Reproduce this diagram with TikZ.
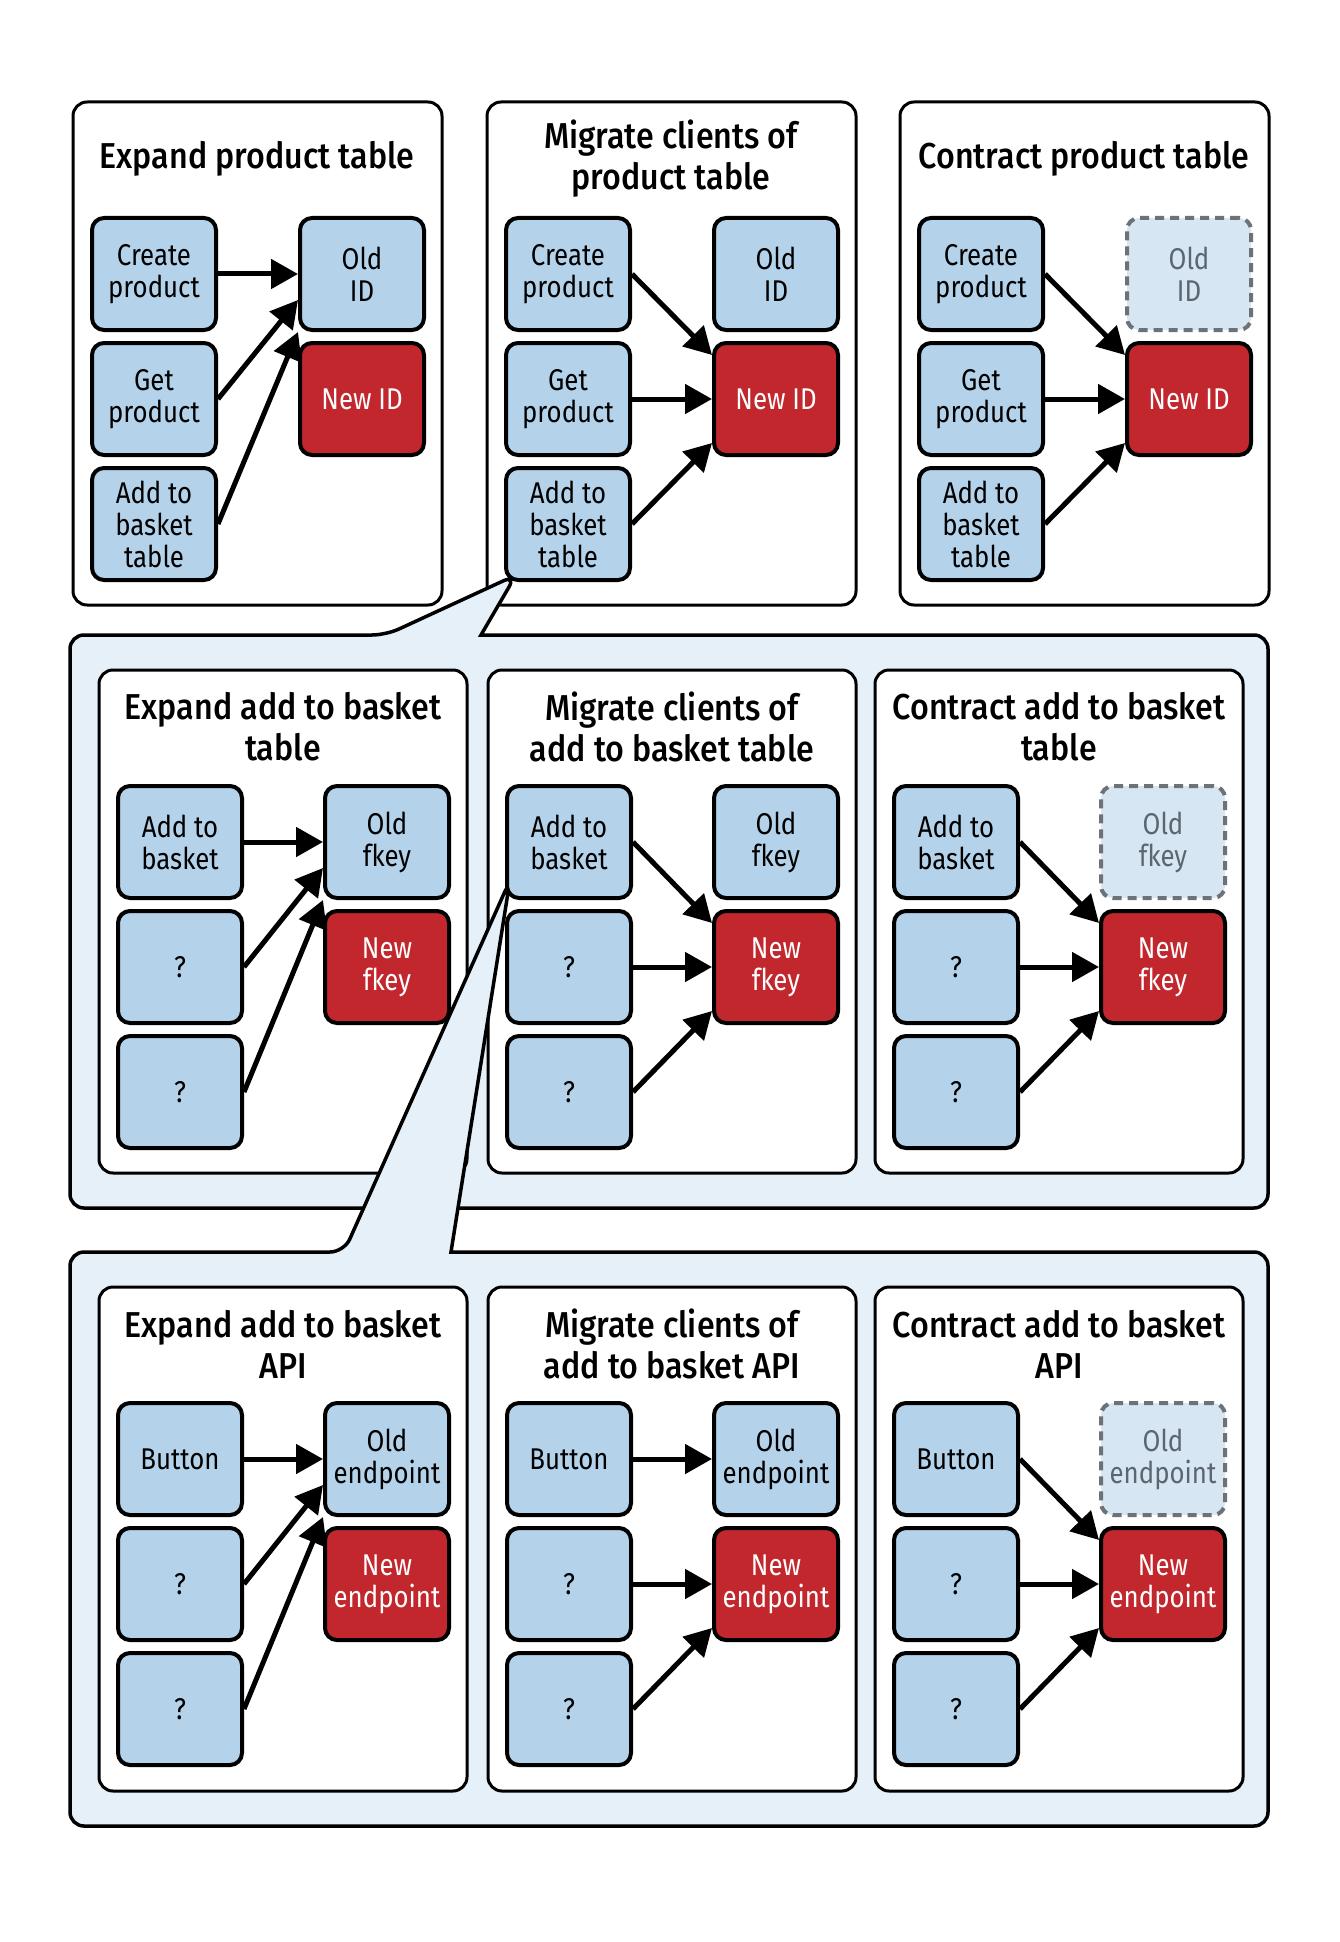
\documentclass[tikz,border=0pt]{standalone}
\usepackage{fontspec}
\setmainfont{Fira Sans}[FakeStretch=0.86]
\newfontfamily\titlefam{Fira Sans Medium}[FakeStretch=0.895]
\usetikzlibrary{arrows.meta}
\definecolor{boxblue}{RGB}{180,211,235}
\definecolor{newred}{RGB}{193,39,45}
\definecolor{bgblue}{RGB}{229,240,248}
\definecolor{goneblue}{RGB}{214,230,243}
\definecolor{gonegray}{RGB}{110,114,118}
\definecolor{gonetext}{RGB}{92,102,112}
\newcommand{\boxfont}{\fontsize{30}{32}\selectfont}
\newcommand{\titlefont}{\titlefam\fontsize{36}{41}\selectfont}
\tikzset{
  frame/.style={draw, line width=3pt, rounded corners=14pt, fill=white},
  bigframe/.style={draw, line width=3.5pt, rounded corners=14pt, fill=bgblue},
  title/.style={align=center, font=\titlefont},
  item/.style={draw, line width=4pt, rounded corners=12pt, fill=boxblue, minimum width=124pt, minimum height=112pt, inner sep=0pt, align=center, font=\boxfont},
  newitem/.style={item, fill=newred, text=white},
  olditem/.style={item, draw=gonegray, fill=goneblue, text=gonetext, dash pattern=on 9pt off 6pt},
  link/.style={line width=5pt, -{Triangle[length=27pt,width=29pt]}},
}
\begin{document}
\begin{tikzpicture}[x=1pt,y=-1pt]
\path[use as bounding box, fill=white] (0,0) rectangle (1340,1942);

% product table row
\draw[frame] (73,102) rectangle (442,605);
\draw[frame] (487,102) rectangle (856,605);
\draw[frame] (900,102) rectangle (1269,605);

% basket table row, callout from the basket box above
\draw[bigframe] (70,900) -- (70,635) -- (386,635) -- (516,575) [sharp corners] -- (481,635) [rounded corners=14pt] -- (1268,635) -- (1268,1208) -- (70,1208) -- cycle;
\draw[frame] (99,670) rectangle (467,1173);
\draw[frame] (488,670) rectangle (856,1173);
\draw[frame] (875,670) rectangle (1243,1173);

% basket API row, callout from the basket box above
\draw[bigframe] (70,1500) -- (70,1252) -- (344,1252) -- (510,880) [sharp corners] -- (451,1252) [rounded corners=14pt] -- (1268,1252) -- (1268,1826) -- (70,1826) -- cycle;
\draw[frame] (99,1287) rectangle (467,1791);
\draw[frame] (488,1287) rectangle (856,1791);
\draw[frame] (875,1287) rectangle (1243,1791);

% titles
\node[title] (exp1) at (257,159) {Expand product table};
\node[title] (mig1) at (671,159) {Migrate clients of\\product table};
\node[title] (con1) at (1084,159) {Contract product table};
\node[title] (exp2) at (283,727) {Expand add to basket\\table};
\node[title] (mig2) at (672,727) {Migrate clients of\\add to basket table};
\node[title] (con2) at (1059,727) {Contract add to basket\\table};
\node[title] (exp3) at (283,1344) {Expand add to basket\\API};
\node[title] (mig3) at (672,1344) {Migrate clients of\\add to basket API};
\node[title] (con3) at (1059,1344) {Contract add to basket\\API};

% expand product table
\node[item] (exp1-a) at (154,274) {Create\\product};
\node[item] (exp1-b) at (154,399) {Get\\product};
\node[item] (exp1-c) at (154,524) {Add to\\basket\\table};
\node[item] (exp1-old) at (362,274) {Old\\ID};
\node[newitem] (exp1-new) at (362,399) {New ID};
\draw[link] (exp1-a.east) -- (exp1-old.west);
\draw[link] (exp1-b.east) -- ([yshift=32pt]exp1-old.south west);
\draw[link] (exp1-c.east) -- (exp1-old.south west);

% migrate product table
\node[item] (mig1-a) at (568,274) {Create\\product};
\node[item] (mig1-b) at (568,399) {Get\\product};
\node[item] (mig1-c) at (568,524) {Add to\\basket\\table};
\node[item] (mig1-old) at (776,274) {Old\\ID};
\node[newitem] (mig1-new) at (776,399) {New ID};
\draw[link] (mig1-a.east) -- ([yshift=-14pt]mig1-new.north west);
\draw[link] (mig1-b.east) -- (mig1-new.west);
\draw[link] (mig1-c.east) -- ([yshift=14pt]mig1-new.south west);

% contract product table
\node[item] (con1-a) at (981,274) {Create\\product};
\node[item] (con1-b) at (981,399) {Get\\product};
\node[item] (con1-c) at (981,524) {Add to\\basket\\table};
\node[olditem] (con1-old) at (1189,274) {Old\\ID};
\node[newitem] (con1-new) at (1189,399) {New ID};
\draw[link] (con1-a.east) -- ([yshift=-14pt]con1-new.north west);
\draw[link] (con1-b.east) -- (con1-new.west);
\draw[link] (con1-c.east) -- ([yshift=14pt]con1-new.south west);

% expand basket table
\node[item] (exp2-a) at (180,842) {Add to\\basket};
\node[item] (exp2-b) at (180,967) {?};
\node[item] (exp2-c) at (180,1092) {?};
\node[item] (exp2-old) at (387,842) {Old\\fkey};
\node[newitem] (exp2-new) at (387,967) {New\\fkey};
\draw[link] (exp2-a.east) -- (exp2-old.west);
\draw[link] (exp2-b.east) -- ([yshift=32pt]exp2-old.south west);
\draw[link] (exp2-c.east) -- (exp2-old.south west);

% migrate basket table
\node[item] (mig2-a) at (569,842) {Add to\\basket};
\node[item] (mig2-b) at (569,967) {?};
\node[item] (mig2-c) at (569,1092) {?};
\node[item] (mig2-old) at (776,842) {Old\\fkey};
\node[newitem] (mig2-new) at (776,967) {New\\fkey};
\draw[link] (mig2-a.east) -- ([yshift=-14pt]mig2-new.north west);
\draw[link] (mig2-b.east) -- (mig2-new.west);
\draw[link] (mig2-c.east) -- ([yshift=14pt]mig2-new.south west);

% contract basket table
\node[item] (con2-a) at (956,842) {Add to\\basket};
\node[item] (con2-b) at (956,967) {?};
\node[item] (con2-c) at (956,1092) {?};
\node[olditem] (con2-old) at (1163,842) {Old\\fkey};
\node[newitem] (con2-new) at (1163,967) {New\\fkey};
\draw[link] (con2-a.east) -- ([yshift=-14pt]con2-new.north west);
\draw[link] (con2-b.east) -- (con2-new.west);
\draw[link] (con2-c.east) -- ([yshift=14pt]con2-new.south west);

% expand basket API
\node[item] (exp3-a) at (180,1459) {Button};
\node[item] (exp3-b) at (180,1584) {?};
\node[item] (exp3-c) at (180,1709) {?};
\node[item] (exp3-old) at (387,1459) {Old\\endpoint};
\node[newitem] (exp3-new) at (387,1584) {New\\endpoint};
\draw[link] (exp3-a.east) -- (exp3-old.west);
\draw[link] (exp3-b.east) -- ([yshift=32pt]exp3-old.south west);
\draw[link] (exp3-c.east) -- (exp3-old.south west);

% migrate basket API
\node[item] (mig3-a) at (569,1459) {Button};
\node[item] (mig3-b) at (569,1584) {?};
\node[item] (mig3-c) at (569,1709) {?};
\node[item] (mig3-old) at (776,1459) {Old\\endpoint};
\node[newitem] (mig3-new) at (776,1584) {New\\endpoint};
\draw[link] (mig3-a.east) -- (mig3-old.west);
\draw[link] (mig3-b.east) -- (mig3-new.west);
\draw[link] (mig3-c.east) -- ([yshift=14pt]mig3-new.south west);

% contract basket API
\node[item] (con3-a) at (956,1459) {Button};
\node[item] (con3-b) at (956,1584) {?};
\node[item] (con3-c) at (956,1709) {?};
\node[olditem] (con3-old) at (1163,1459) {Old\\endpoint};
\node[newitem] (con3-new) at (1163,1584) {New\\endpoint};
\draw[link] (con3-a.east) -- ([yshift=-14pt]con3-new.north west);
\draw[link] (con3-b.east) -- (con3-new.west);
\draw[link] (con3-c.east) -- ([yshift=14pt]con3-new.south west);
\end{tikzpicture}
\end{document}
